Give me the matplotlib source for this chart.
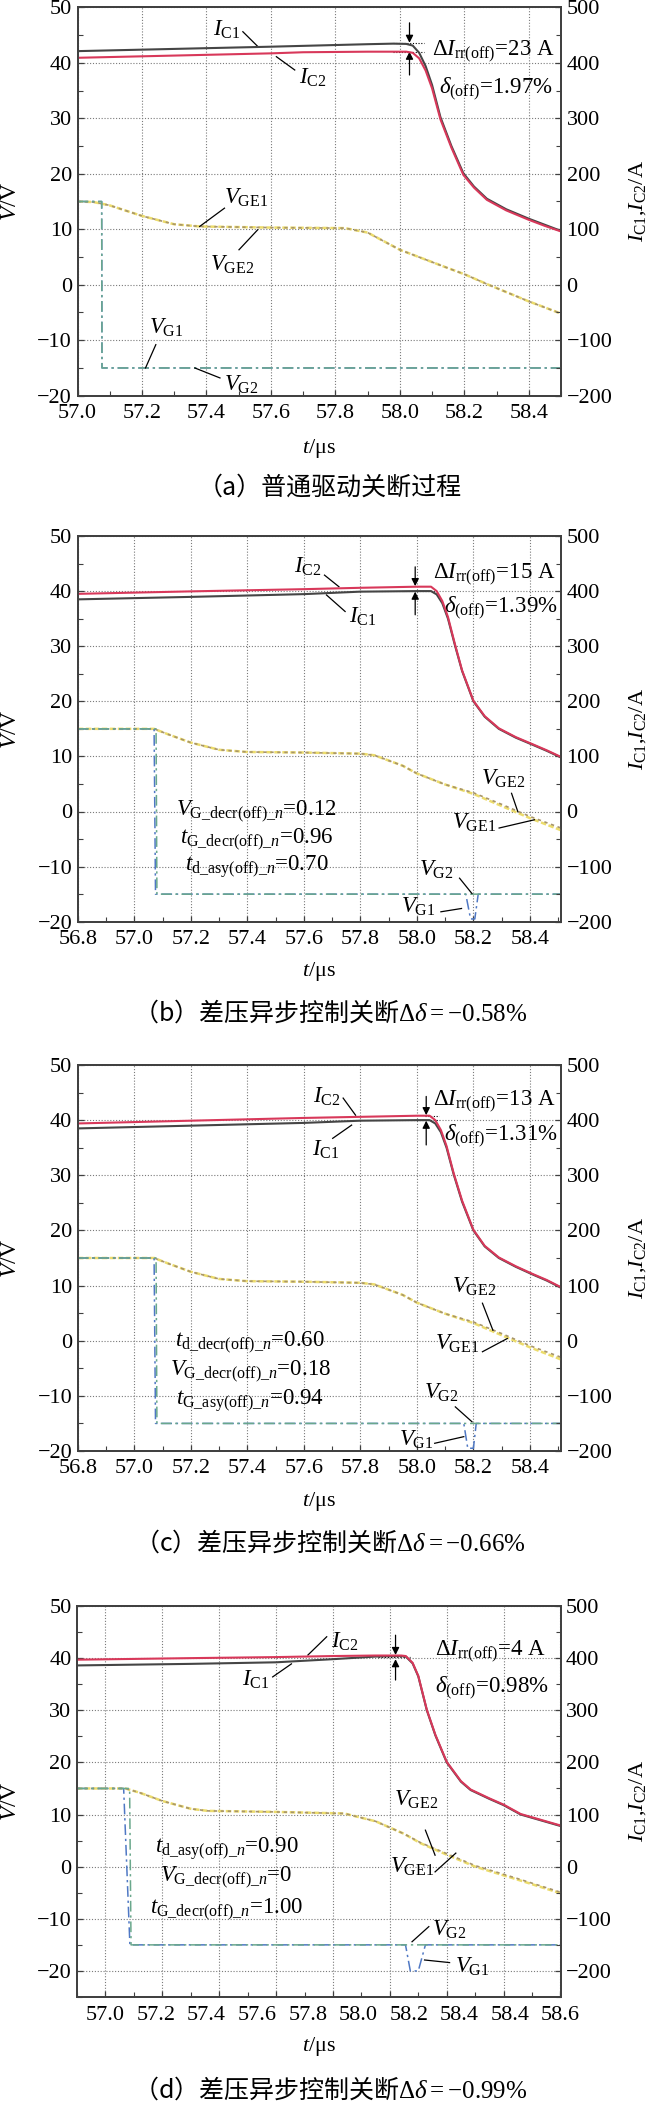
import numpy as np
import matplotlib.pyplot as plt
from matplotlib.ticker import MultipleLocator

plt.rcParams['font.family'] = ['Liberation Serif', 'DejaVu Serif']
plt.rcParams['mathtext.fontset'] = 'custom'
plt.rcParams['mathtext.rm'] = 'Liberation Serif'
plt.rcParams['mathtext.it'] = 'Liberation Serif:italic'
plt.rcParams['mathtext.bf'] = 'Liberation Serif:bold'
plt.rcParams['axes.unicode_minus'] = True

# ── data (t in us, V in V, I in A) ─────────────────────────────────
# (a) normal drive turn-off
t_ic_a = [57.0, 57.3, 57.6, 57.7, 57.9, 57.98, 58.02, 58.04, 58.06, 58.08, 58.10,
          58.126, 58.16, 58.197, 58.23, 58.27, 58.33, 58.40, 58.45, 58.5]
ic1_a = [421, 425, 429, 430.5, 433.5, 434.5, 434, 431, 418, 394, 360,
         302, 250, 201, 177, 155, 136, 119, 108, 97]
ic2_a = [409, 413, 417, 419, 420, 420, 420, 418, 408, 386, 354,
         298, 247, 198, 175, 153, 134, 117, 106, 96]
t_vge_a = [57.0, 57.05, 57.1, 57.2, 57.3, 57.38, 57.6, 57.83, 57.9, 58.0,
           58.14, 58.2, 58.275, 58.4, 58.5]
vge1_a = [15.0, 14.9, 14.3, 12.4, 10.9, 10.5, 10.3, 10.2, 9.4, 6.3,
          3.2, 1.9, 0.0, -3.0, -5.2]
vge2_a = [15.0, 14.9, 14.3, 12.4, 10.9, 10.5, 10.3, 10.2, 9.4, 6.3,
          3.2, 1.9, 0.0, -3.0, -5.2]
t_vg1_a = [57.0, 57.075, 57.076, 58.5]
vg1_a = [15, 15, -15, -15]
t_vg2_a = [57.0, 57.075, 57.076, 58.5]
vg2_a = [15, 15, -15, -15]

# (b) dV asynchronous control, -0.58 %
t_ic_b = [56.8, 57.2, 57.6, 57.8, 58.0, 58.05, 58.07, 58.09, 58.11, 58.135, 58.16,
          58.20, 58.24, 58.29, 58.35, 58.41, 58.46, 58.51]
ic1_b = [385, 389.5, 394.5, 399, 400, 400, 394, 378, 350, 301, 255,
         200, 172, 150, 134, 121, 110, 98]
ic2_b = [395, 399.5, 403.5, 406, 408, 408, 400, 382, 353, 303, 256,
         201, 173, 151, 135, 122, 111, 99]
t_vge_b = [56.8, 57.07, 57.12, 57.2, 57.3, 57.4, 57.6, 57.8, 57.85, 57.95,
           58.0, 58.1, 58.2, 58.3, 58.4, 58.51]
vge1_b = [15.0, 15.0, 14.0, 12.5, 11.2, 10.8, 10.7, 10.5, 10.2, 8.3,
          6.9, 4.9, 3.2, 1.0, -1.2, -3.4]
vge2_b = [15.0, 15.0, 14.0, 12.5, 11.2, 10.8, 10.7, 10.5, 10.2, 8.3,
          6.9, 4.9, 3.4, 1.3, -0.9, -3.0]
t_vg1_b = [56.8, 57.07, 57.075, 58.173, 58.19, 58.205, 58.217, 58.51]
vg1_b = [15, 15, -15, -15, -19.5, -19.5, -15, -15]
t_vg2_b = [56.8, 57.077, 57.08, 58.51]
vg2_b = [15, 15, -15, -15]

# (c) dV asynchronous control, -0.66 %
t_ic_c = [56.8, 57.2, 57.6, 57.8, 58.0, 58.045, 58.065, 58.085, 58.105, 58.13, 58.16,
          58.20, 58.24, 58.29, 58.35, 58.41, 58.46, 58.51]
ic1_c = [385, 390, 395, 399, 400, 400, 394, 378, 350, 302, 252,
         200, 171, 150, 134, 120, 109, 96]
ic2_c = [394, 399, 404, 406, 408, 408, 400, 382, 353, 304, 254,
         201, 172, 151, 135, 121, 110, 97]
t_vge_c = [56.8, 57.07, 57.12, 57.2, 57.3, 57.4, 57.6, 57.8, 57.85, 57.95,
           58.0, 58.1, 58.2, 58.3, 58.4, 58.51]
vge1_c = [15.0, 15.0, 14.0, 12.5, 11.2, 10.8, 10.7, 10.5, 10.2, 8.3,
          6.9, 4.9, 3.2, 1.0, -1.2, -3.4]
vge2_c = [15.0, 15.0, 14.0, 12.5, 11.2, 10.8, 10.7, 10.5, 10.2, 8.3,
          6.9, 4.9, 3.4, 1.3, -0.9, -3.0]
t_vg1_c = [56.8, 57.07, 57.075, 58.166, 58.18, 58.2, 58.21, 58.51]
vg1_c = [15, 15, -15, -15, -19.5, -19.5, -15, -15]
t_vg2_c = [56.8, 57.077, 57.08, 58.51]
vg2_c = [15, 15, -15, -15]

# (d) dV asynchronous control, -0.99 %
t_ic_d = [56.9, 57.3, 57.6, 57.8, 57.95, 58.04, 58.056, 58.08, 58.10, 58.13, 58.16,
          58.20, 58.25, 58.284, 58.35, 58.40, 58.46, 58.53, 58.6]
ic1_d = [386, 389, 392, 398, 403, 404, 403, 390, 365, 300, 252,
         200, 163, 147, 130, 118, 100, 89, 78]
ic2_d = [397, 400, 402, 404, 405, 405, 404, 391, 366, 301, 253,
         201, 164, 148, 131, 119, 101, 90, 79]
t_vge_d = [56.9, 57.07, 57.12, 57.2, 57.3, 57.36, 57.6, 57.84, 57.95, 58.05,
           58.108, 58.2, 58.3, 58.45, 58.6]
vge1_d = [15.0, 15.0, 14.2, 12.6, 11.1, 10.7, 10.5, 10.2, 8.7, 6.3,
          4.5, 2.3, 0.0, -2.5, -5.1]
vge2_d = [15.0, 15.0, 14.2, 12.6, 11.1, 10.7, 10.5, 10.2, 8.7, 6.3,
          4.6, 2.5, 0.2, -2.3, -4.9]
t_vg1_d = [56.9, 57.064, 57.086, 58.055, 58.072, 58.100, 58.125, 58.6]
vg1_d = [15, 15, -15, -15, -20, -20, -15, -15]
t_vg2_d = [56.9, 57.085, 57.09, 58.6]
vg2_d = [15, 15, -15, -15]
ticklabels_d = ['57.0', '57.2', '57.4', '57.6', '57.8', '58.0', '58.2', '58.4', '58.4', '58.6']

captions = ['（a）普通驱动关断过程',
            '（b）差压异步控制关断' + r'$\Delta\delta\mathrm{=-0.58\%}$',
            '（c）差压异步控制关断' + r'$\Delta\delta\mathrm{=-0.66\%}$',
            '（d）差压异步控制关断' + r'$\Delta\delta\mathrm{=-0.99\%}$']

# ── figure ──────────────────────────────────────────────────────────
W, H = 652, 2106
fig = plt.figure(figsize=(W / 100, H / 100), dpi=100)
FS = 16
AFS = 16.5
SPINE = '#404040'


def px_rect(l, t, r, b):
    return [l / W, 1 - b / H, (r - l) / W, (b - t) / H]


def lead(ax, x0, y0, x1, y1):
    ax.plot([x0, x1], [y0, y1], color='k', lw=0.9, zorder=6)


def arrow(ax, x, y0, y1):
    ax.annotate('', xy=(x, y1), xytext=(x, y0),
                arrowprops=dict(arrowstyle='-|>', color='k', lw=0.9,
                                mutation_scale=11, shrinkA=0, shrinkB=0), zorder=6)


def draw_panel(rect, xlim, ylim, t_ic, ic1, ic2, t_vge, vge1, vge2,
               t_vg1, vg1, t_vg2, vg2, xticks):
    ax = fig.add_axes(rect)
    ax2 = ax.twinx()
    ax.set_xlim(xlim)
    ax.set_ylim(ylim)
    ax2.set_ylim(ylim[0] * 10, ylim[1] * 10)

    ax.plot(t_vge, vge1, color='#ecdc6c', lw=1.8, ls=(0, (2.2, 1.0)), zorder=3)
    ax.plot(t_vge, vge2, color='#a8956a', lw=1.2, ls=(0, (2, 2.2)), zorder=3)
    ax.plot(t_vg1, vg1, color='#4f78c4', lw=1.1, ls=(0, (7, 2.5, 1.5, 2.5)), zorder=3)
    ax.plot(t_vg2, vg2, color='#6aa88c', lw=1.1, ls=(0, (7, 2.5, 1.5, 2.5)), zorder=3)
    ax2.plot(t_ic, ic1, color='#454545', lw=1.5)
    ax2.plot(t_ic, ic2, color='#d8385a', lw=1.5)

    ax.set_xticks(xticks)
    ax.xaxis.set_minor_locator(MultipleLocator(0.1))
    ax.set_yticks(range(-20, 51, 10))
    ax.yaxis.set_minor_locator(MultipleLocator(5))
    ax2.set_yticks(range(-200, 501, 100))
    ax2.yaxis.set_minor_locator(MultipleLocator(50))
    ax.grid(True, which='major', color='#7a7a7a', ls=(0, (1, 1.6)), lw=0.8)
    ax.set_axisbelow(True)

    ax.tick_params(which='both', direction='in', top=False, right=False,
                   labelsize=FS, color=SPINE)
    ax.tick_params(which='major', length=4.5, width=0.9)
    ax.tick_params(which='minor', length=3.5, width=0.8)
    ax.tick_params(axis='x', pad=6)
    ax.tick_params(axis='y', pad=4)
    ax2.tick_params(which='both', direction='in', left=False, right=True,
                    labelsize=FS, color=SPINE, pad=4)
    ax2.tick_params(which='major', length=4.5, width=0.9)
    ax2.tick_params(which='minor', length=3.5, width=0.8)
    for a in (ax, ax2):
        for s in a.spines.values():
            s.set_color(SPINE)
            s.set_linewidth(1.3)
    return ax, ax2


def frame_text(top_px, bottom_px, xlab_px, cap_px, caption, xc=319):
    yc = 1 - (top_px + bottom_px) / 2 / H
    fig.text(10 / W, yc, r'$V$/V', rotation=90, ha='center', va='center', fontsize=17)
    fig.text(638 / W, yc, r'$I_{\mathrm{C1}}$,$I_{\mathrm{C2}}$/A', rotation=90,
             ha='center', va='center', fontsize=FS)
    fig.text(xc / W, 1 - xlab_px / H, r'$t$/μs', ha='center', va='center', fontsize=FS)
    fig.text(330 / W, 1 - cap_px / H, caption, ha='center', va='center', fontsize=18,
             family=['Noto Sans CJK SC', 'Liberation Serif'])


# ── panel (a) ───────────────────────────────────────────────────────
ax, ax2 = draw_panel(px_rect(77.5, 7.3, 561, 395.7), (57.0, 58.5), (-20, 50),
                     t_ic_a, ic1_a, ic2_a, t_vge_a, vge1_a, vge2_a,
                     t_vg1_a, vg1_a, t_vg2_a, vg2_a, np.arange(57.0, 58.41, 0.2))
ax.set_xticklabels(['57.0', '57.2', '57.4', '57.6', '57.8', '58.0', '58.2', '58.4'])
ax.text(57.464, 45.9, r'$I_{\mathrm{C1}}$', ha='center', va='center', fontsize=AFS)
lead(ax, 57.513, 45.6, 57.560, 42.9)
ax.text(57.730, 37.3, r'$I_{\mathrm{C2}}$', ha='center', va='center', fontsize=AFS)
lead(ax, 57.617, 41.1, 57.674, 38.7)
arrow(ax, 58.03, 47.2, 43.6)
arrow(ax, 58.03, 37.8, 42.0)
ax.plot([57.98, 58.075], [43.5, 43.5], color='k', lw=0.8, ls=(0, (1, 1.5)))
ax.plot([57.98, 58.075], [42.0, 42.0], color='k', lw=0.8, ls=(0, (1, 1.5)))
ax.text(58.100, 41.9, r'$\Delta I_{\mathrm{rr(off)}}$=23 A', ha='left', va='center', fontsize=AFS)
ax.text(58.120, 35.1, r'$\delta_{\mathrm{(off)}}$=1.97%', ha='left', va='center', fontsize=AFS)
ax.text(57.522, 15.6, r'$V_{\mathrm{GE1}}$', ha='center', va='center', fontsize=AFS)
lead(ax, 57.456, 13.8, 57.379, 10.5)
ax.text(57.479, 3.6, r'$V_{\mathrm{GE2}}$', ha='center', va='center', fontsize=AFS)
lead(ax, 57.501, 6.3, 57.559, 9.9)
ax.text(57.274, -7.8, r'$V_{\mathrm{G1}}$', ha='center', va='center', fontsize=AFS)
lead(ax, 57.243, -10.8, 57.211, -15.0)
ax.text(57.507, -18.1, r'$V_{\mathrm{G2}}$', ha='center', va='center', fontsize=AFS)
lead(ax, 57.442, -16.8, 57.364, -15.0)
frame_text(7.3, 395.7, 448, 488, captions[0])

# ── panel (b) ───────────────────────────────────────────────────────
ax, ax2 = draw_panel(px_rect(77.8, 536, 561, 921.7), (56.8, 58.51), (-20, 50),
                     t_ic_b, ic1_b, ic2_b, t_vge_b, vge1_b, vge2_b,
                     t_vg1_b, vg1_b, t_vg2_b, vg2_b, np.arange(56.8, 58.41, 0.2))
ax.set_xticklabels(['56.8', '57.0', '57.2', '57.4', '57.6', '57.8', '58.0', '58.2', '58.4'])
ax.text(57.613, 44.4, r'$I_{\mathrm{C2}}$', ha='center', va='center', fontsize=AFS)
lead(ax, 57.673, 42.9, 57.724, 40.8)
ax.text(57.808, 35.4, r'$I_{\mathrm{C1}}$', ha='center', va='center', fontsize=AFS)
lead(ax, 57.746, 36.3, 57.68, 39.3)
arrow(ax, 57.994, 44.4, 40.9)
arrow(ax, 57.994, 35.7, 39.9)
ax.plot([57.95, 58.06], [40.0, 40.0], color='k', lw=0.8, ls=(0, (1, 1.5)))
ax.text(58.058, 42.9, r'$\Delta I_{\mathrm{rr(off)}}$=15 A', ha='left', va='center', fontsize=AFS)
ax.text(58.095, 36.9, r'$\delta_{\mathrm{(off)}}$=1.39%', ha='left', va='center', fontsize=AFS)
ax.text(58.305, 6.0, r'$V_{\mathrm{GE2}}$', ha='center', va='center', fontsize=AFS)
lead(ax, 58.335, 3.3, 58.357, 0.0)
ax.text(58.202, -2.1, r'$V_{\mathrm{GE1}}$', ha='center', va='center', fontsize=AFS)
lead(ax, 58.291, -3.0, 58.416, -1.5)
ax.text(58.07, -10.6, r'$V_{\mathrm{G2}}$', ha='center', va='center', fontsize=AFS)
lead(ax, 58.151, -12.1, 58.195, -14.9)
ax.text(58.004, -17.3, r'$V_{\mathrm{G1}}$', ha='center', va='center', fontsize=AFS)
lead(ax, 58.085, -18.2, 58.158, -17.6)
for txt, yv in zip([r'$V_{\mathrm{G\_decr(off)\_}n}$=0.12',
                    r'$t_{\mathrm{G\_decr(off)\_}n}$=0.96',
                    r'$t_{\mathrm{d\_asy(off)\_}n}$=0.70'], [0.0, -5.2, -10.0]):
    ax.text(57.433, yv, txt, ha='center', va='center', fontsize=AFS)
frame_text(536, 921.7, 971.7, 1013, captions[1])

# ── panel (c) ───────────────────────────────────────────────────────
ax, ax2 = draw_panel(px_rect(77.8, 1065, 561, 1451), (56.8, 58.51), (-20, 50),
                     t_ic_c, ic1_c, ic2_c, t_vge_c, vge1_c, vge2_c,
                     t_vg1_c, vg1_c, t_vg2_c, vg2_c, np.arange(56.8, 58.41, 0.2))
ax.set_xticklabels(['56.8', '57.0', '57.2', '57.4', '57.6', '57.8', '58.0', '58.2', '58.4'])
ax.text(57.68, 44.3, r'$I_{\mathrm{C2}}$', ha='center', va='center', fontsize=AFS)
lead(ax, 57.739, 44.0, 57.783, 40.9)
ax.text(57.677, 34.6, r'$I_{\mathrm{C1}}$', ha='center', va='center', fontsize=AFS)
lead(ax, 57.702, 36.7, 57.769, 39.1)
arrow(ax, 58.033, 44.3, 40.9)
arrow(ax, 58.033, 35.5, 39.9)
ax.plot([57.98, 58.08], [40.0, 40.0], color='k', lw=0.8, ls=(0, (1, 1.5)))
ax.plot([58.03, 58.08], [40.8, 40.8], color='k', lw=0.8, ls=(0, (1, 1.5)))
ax.text(58.058, 43.3, r'$\Delta I_{\mathrm{rr(off)}}$=13 A', ha='left', va='center', fontsize=AFS)
ax.text(58.095, 37.0, r'$\delta_{\mathrm{(off)}}$=1.31%', ha='left', va='center', fontsize=AFS)
ax.text(58.202, 9.8, r'$V_{\mathrm{GE2}}$', ha='center', va='center', fontsize=AFS)
lead(ax, 58.232, 6.8, 58.269, 1.9)
ax.text(58.144, -0.5, r'$V_{\mathrm{GE1}}$', ha='center', va='center', fontsize=AFS)
lead(ax, 58.232, -2.0, 58.32, 0.4)
ax.text(58.085, -9.5, r'$V_{\mathrm{G2}}$', ha='center', va='center', fontsize=AFS)
lead(ax, 58.136, -12.0, 58.195, -14.7)
ax.text(57.997, -18.0, r'$V_{\mathrm{G1}}$', ha='center', va='center', fontsize=AFS)
lead(ax, 58.063, -18.6, 58.166, -17.4)
for txt, yv in zip([r'$t_{\mathrm{d\_decr(off)\_}n}$=0.60',
                    r'$V_{\mathrm{G\_decr(off)\_}n}$=0.18',
                    r'$t_{\mathrm{G\_asy(off)\_}n}$=0.94'], [-0.5, -5.6, -10.8]):
    ax.text(57.41, yv, txt, ha='center', va='center', fontsize=AFS)
frame_text(1065, 1451, 1501.7, 1543, captions[2])

# ── panel (d) ───────────────────────────────────────────────────────
ax, ax2 = draw_panel(px_rect(77, 1606, 560.5, 1997), (56.9, 58.6), (-25, 50),
                     t_ic_d, ic1_d, ic2_d, t_vge_d, vge1_d, vge2_d,
                     t_vg1_d, vg1_d, t_vg2_d, vg2_d, np.arange(57.0, 58.61, 0.2))
ax.set_xticklabels([])
for xv, lab in zip(np.linspace(57.0, 58.6, len(ticklabels_d)), ticklabels_d):
    ax.text(xv, -0.048, lab, transform=ax.get_xaxis_transform(), ha='center', va='center',
            fontsize=FS)
ax.text(57.841, 43.2, r'$I_{\mathrm{C2}}$', ha='center', va='center', fontsize=AFS)
lead(ax, 57.778, 44.1, 57.712, 40.6)
ax.text(57.529, 35.8, r'$I_{\mathrm{C1}}$', ha='center', va='center', fontsize=AFS)
lead(ax, 57.588, 36.4, 57.654, 38.9)
arrow(ax, 58.02, 44.4, 40.6)
arrow(ax, 58.02, 35.8, 39.8)
ax.plot([57.958, 58.07], [40.3, 40.3], color='k', lw=0.9, ls=(0, (1, 1.5)))
ax.text(58.16, 41.2, r'$\Delta I_{\mathrm{rr(off)}}$=4 A', ha='left', va='center', fontsize=AFS)
ax.text(58.16, 34.2, r'$\delta_{\mathrm{(off)}}$=0.98%', ha='left', va='center', fontsize=AFS)
ax.text(58.093, 12.8, r'$V_{\mathrm{GE2}}$', ha='center', va='center', fontsize=AFS)
lead(ax, 58.125, 7.0, 58.159, 2.2)
ax.text(58.078, 0.0, r'$V_{\mathrm{GE1}}$', ha='center', va='center', fontsize=AFS)
lead(ax, 58.159, -1.0, 58.232, 2.6)
ax.text(58.21, -12.2, r'$V_{\mathrm{G2}}$', ha='center', va='center', fontsize=AFS)
lead(ax, 58.137, -11.5, 58.078, -14.4)
ax.text(58.29, -19.2, r'$V_{\mathrm{G1}}$', ha='center', va='center', fontsize=AFS)
lead(ax, 58.21, -18.4, 58.122, -17.9)
for txt, yv in zip([r'$t_{\mathrm{d\_asy(off)\_}n}$=0.90',
                    r'$V_{\mathrm{G\_decr(off)\_}n}$=0',
                    r'$t_{\mathrm{G\_decr(off)\_}n}$=1.00'], [3.5, -2.2, -8.3]):
    ax.text(57.425, yv, txt, ha='center', va='center', fontsize=AFS)
frame_text(1606, 1997, 2046.7, 2090, captions[3])

fig.savefig('out.png', dpi=100)
